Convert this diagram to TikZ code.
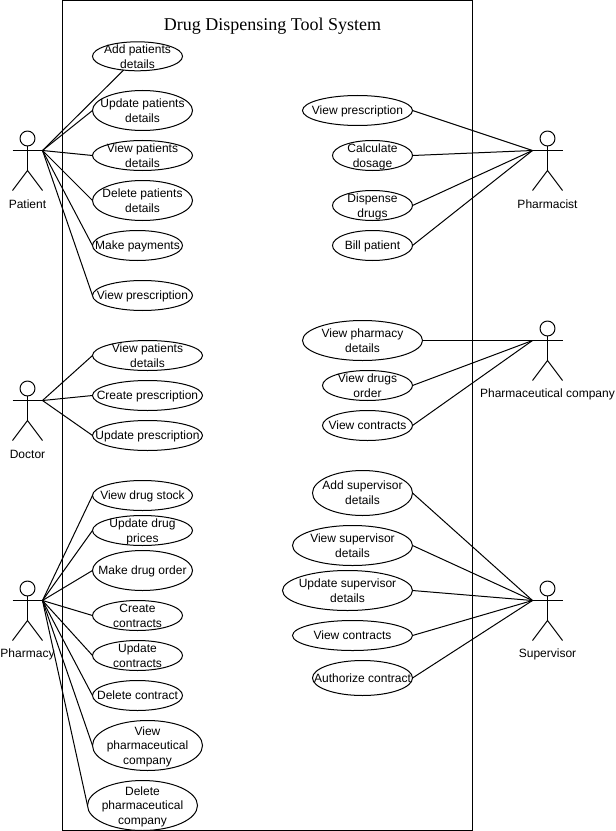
\documentclass[tikz,border=0pt]{standalone}
\usepackage{fontspec}
\setmainfont{Liberation Sans}
\newfontfamily\titlefont{Liberation Serif}
\usetikzlibrary{shapes.geometric}
\newcommand{\uctext}[1]{\makebox[0pt]{\raisebox{-3.3pt}[0pt][0pt]{\fontsize{9}{11.1}\selectfont\begin{tabular}[c]{@{}c@{}}#1\end{tabular}}}}
\tikzset{
  x=0.75pt,y=-0.75pt,
  every path/.style={line width=0.75pt},
  uc/.style n args={2}{shape=ellipse,draw,fill=white,inner sep=0pt,outer sep=0pt,minimum width=#1*0.75pt,minimum height=#2*0.75pt},
  actortext/.style={font=\fontsize{9}{11}\selectfont,inner sep=0pt},
  actor/.pic={
    \draw (0,-12) circle[radius=5.6pt];
    \draw (0,-4.5) -- (0,20);
    \draw (-15,0) -- (15,0);
    \draw (-15,40) -- (0,20) -- (15,40);
    \coordinate (-l) at (-15,0);
    \coordinate (-r) at (15,0);
    \node[actortext] (-label) at (0,54) {#1};
  }
}
\begin{document}
\begin{tikzpicture}
\useasboundingbox (0,-0.5) rectangle (615,830.5);
\node[draw,minimum width=307.5pt,minimum height=622.5pt,inner sep=0pt,outer sep=0pt] (system) at (267.5,415) {};
\node[font=\titlefont\fontsize{13.5}{15}\selectfont,inner sep=0pt] (title) at (272.5,26) {Drug Dispensing Tool System};

\pic (patient) at (27.5,150) {actor=Patient};
\pic (doctor) at (27.5,400) {actor=Doctor};
\pic (pharmacy) at (27.5,600) {actor=Pharmacy};
\pic (pharmacist) at (547.5,150) {actor=Pharmacist};
\pic (company) at (547.5,340) {actor=Pharmaceutical company};
\pic (supervisor) at (547.5,600) {actor=Supervisor};

\node[uc={90}{29}] (a1) at (137.5,55.8) {\uctext{Add patients\\details}};
\node[uc={100}{40}] (a2) at (142.5,110) {\uctext{Update patients\\details}};
\node[uc={100}{30}] (a3) at (142.5,155) {\uctext{View patients\\details}};
\node[uc={100}{40}] (a4) at (142.5,200) {\uctext{Delete patients\\details}};
\node[uc={90}{30}] (a5) at (137.5,245) {\uctext{Make payments}};
\node[uc={100}{30}] (a6) at (142.5,295) {\uctext{View prescription}};

\node[uc={110}{30}] (b1) at (147.5,355) {\uctext{View patients\\details}};
\node[uc={110}{30}] (b2) at (147.5,395) {\uctext{Create prescription}};
\node[uc={110}{30}] (b3) at (147.5,435) {\uctext{Update prescription}};

\node[uc={100}{30}] (c1) at (142.5,495) {\uctext{View drug stock}};
\node[uc={100}{30}] (c2) at (142.5,530) {\uctext{Update drug\\prices}};
\node[uc={100}{40}] (c3) at (142.5,570) {\uctext{Make drug order}};
\node[uc={90}{30}] (c4) at (137.5,615) {\uctext{Create\\contracts}};
\node[uc={90}{30}] (c5) at (137.5,655) {\uctext{Update\\contracts}};
\node[uc={90}{30}] (c6) at (137.5,695) {\uctext{Delete contract}};
\node[uc={110}{50}] (c7) at (147.5,745) {\uctext{View\\pharmaceutical\\company}};
\node[uc={110}{50}] (c8) at (142.5,805) {\uctext{Delete\\pharmaceutical\\company}};

\node[uc={110}{30}] (d1) at (357.5,110) {\uctext{View prescription}};
\node[uc={80}{30}] (d2) at (372.5,155) {\uctext{Calculate\\dosage}};
\node[uc={80}{30}] (d3) at (372.5,205) {\uctext{Dispense\\drugs}};
\node[uc={80}{30}] (d4) at (372.5,245) {\uctext{Bill patient}};

\node[uc={120}{40}] (e1) at (362.5,340) {\uctext{View pharmacy\\details}};
\node[uc={90}{30}] (e2) at (367.5,385) {\uctext{View drugs\\order}};
\node[uc={90}{30}] (e3) at (367.5,425) {\uctext{View contracts}};

\node[uc={100}{45}] (f1) at (362.5,492.5) {\uctext{Add supervisor\\details}};
\node[uc={120}{40}] (f2) at (352.5,545) {\uctext{View supervisor\\details}};
\node[uc={130}{40}] (f3) at (347.5,590) {\uctext{Update supervisor\\details}};
\node[uc={120}{30}] (f4) at (352.5,635) {\uctext{View contracts}};
\node[uc={100}{35}] (f5) at (362.5,677.5) {\uctext{Authorize contract}};

\draw (patient-r) -- (a1);
\foreach \n in {a2,a3,a4,a5,a6} \draw (patient-r) -- (\n.west);
\foreach \n in {b1,b2,b3} \draw (doctor-r) -- (\n.west);
\foreach \n in {c1,c2,c3,c4,c5,c6,c7,c8} \draw (pharmacy-r) -- (\n.west);
\foreach \n in {d1,d2,d3,d4} \draw (pharmacist-l) -- (\n.east);
\foreach \n in {e1,e2,e3} \draw (company-l) -- (\n.east);
\foreach \n in {f1,f2,f3,f4,f5} \draw (supervisor-l) -- (\n.east);
\end{tikzpicture}
\end{document}
